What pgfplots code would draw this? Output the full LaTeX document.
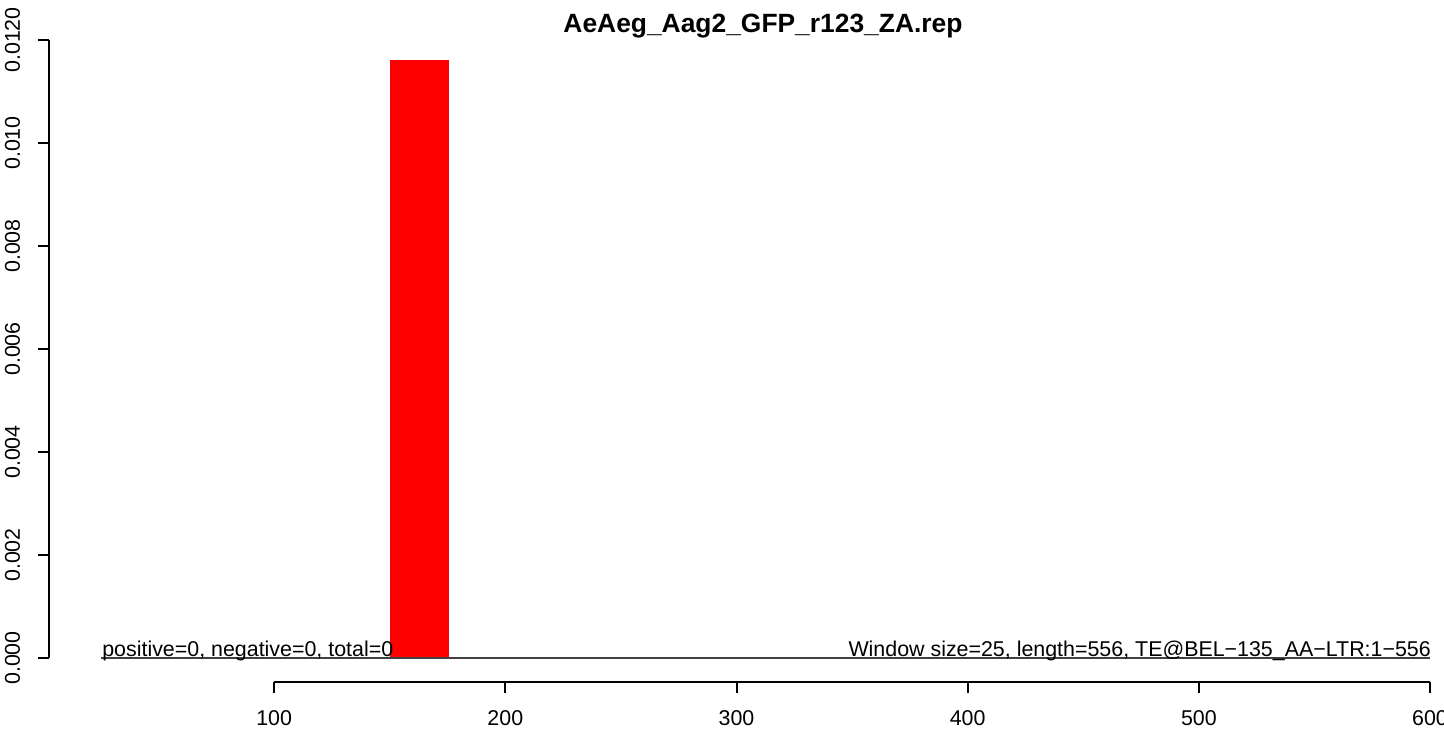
\documentclass[border=0pt]{standalone}
\usepackage{pgfplots}
\pgfplotsset{compat=1.18}
\usepackage{fontspec}
\setmainfont{Liberation Sans}
\begin{document}
\begin{tikzpicture}[x=0.5bp,y=0.5bp]
\begin{axis}[
  at={(24.5bp,25bp)}, anchor=south west,
  scale only axis, width=697.5bp, height=321bp,
  xmin=2.6, xmax=606.06,
  ymin=-0.000466, ymax=0.012,
  axis x line*=bottom, axis y line*=left,
  axis line style={draw=none},
  clip=false,
  tick align=outside,
  major tick length=5.5bp,
  tick style={black, line width=1bp},
  xtick={100,200,300,400,500,600},
  xticklabels={100,200,300,400,500,600},
  ytick={0,0.002,0.004,0.006,0.008,0.010,0.012},
  yticklabels={0.000,0.002,0.004,0.006,0.008,0.010,0.0120},
  /pgf/number format/assume math mode=true,
  ticklabel style={font=\fontsize{10.7bp}{12bp}\selectfont, inner sep=0pt},
  xticklabel style={anchor=base, yshift=-16bp},
  yticklabel style={rotate=90, anchor=base, yshift=9bp},
  scaled y ticks=false,
]
\addplot[ybar interval, fill=red, draw=none] coordinates {(150,0.01161) (175.7,0.01161)};
\draw[black!75, line width=0.6bp] (axis cs:25,0) -- (axis cs:600,0);
\draw[black, line width=1bp] (axis cs:2.6,0) -- (axis cs:2.6,0.012);
\draw[black, line width=1bp] (axis cs:100,-0.000466) -- (axis cs:600,-0.000466);
\node[anchor=base west, inner sep=0pt, font=\fontsize{10.7bp}{12bp}\selectfont] at (axis cs:25.5,0.00002) {positive=0, negative=0, total=0};
\node[anchor=base east, inner sep=0pt, font=\fontsize{10.7bp}{12bp}\selectfont] at (axis cs:600.5,0.00002) {Window size=25, length=556, TE@BEL\textminus135\_AA\textminus LTR:1\textminus556};
\end{axis}
\node[anchor=base, inner sep=0pt, font=\bfseries\fontsize{13.2bp}{15bp}\selectfont] at (763,699) {AeAeg\_Aag2\_GFP\_r123\_ZA.rep};
\pgfresetboundingbox
\path[use as bounding box] (0,0) rectangle (1444,732);
\end{tikzpicture}
\end{document}
